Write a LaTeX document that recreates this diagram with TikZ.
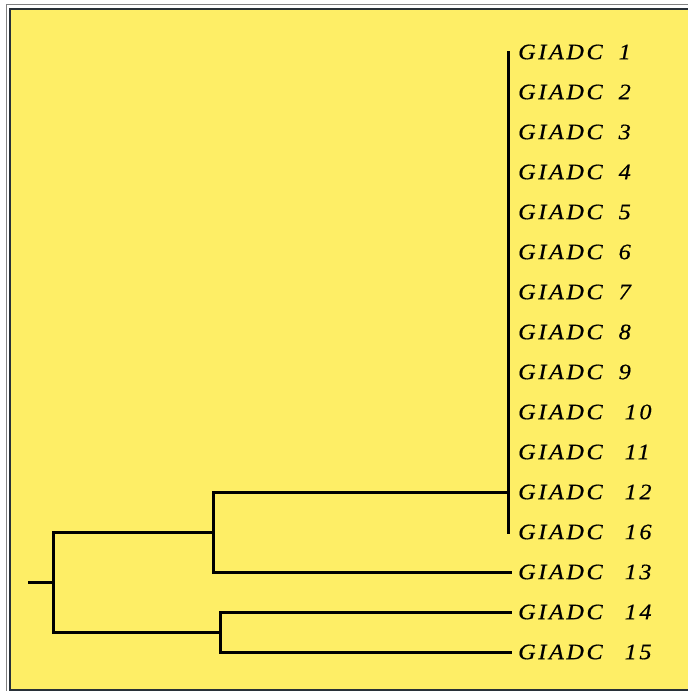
\documentclass[tikz,border=0pt]{standalone}
\usepackage{fontspec}
\newfontfamily\lblfont[LetterSpace=12,FakeStretch=1.1,FakeBold=0.6]{Liberation Serif}
\definecolor{bgyellow}{RGB}{254,238,102}
\definecolor{framedark}{RGB}{40,48,55}
\begin{document}
\begin{tikzpicture}[x=1pt,y=-1pt,
  branch/.style={line width=3pt,line cap=rect,black},
  leaf/.style={anchor=west,inner xsep=8pt,inner ysep=0pt,font=\lblfont\itshape\fontsize{22}{24}\selectfont}]
\useasboundingbox (0,0) rectangle (688,691);
\fill[white] (0,0) rectangle (688,691);
\fill[bgyellow] (11,9) rectangle (688,689);
\draw[gray,line width=1.2pt] (6.5,691) -- (6.5,4.5) -- (688,4.5);
\draw[framedark,line width=2pt] (10,691) -- (10,8.5) -- (688,8.5);
\draw[framedark,line width=2pt] (10,690) -- (688,690);
% leaves
\foreach \i in {1,...,9}{
  \node[leaf] (n\i) at (510,{52+40*(\i-1)}) {GIADC\hspace{16pt}\i};
}
\foreach \i in {10,11,12}{
  \node[leaf] (n\i) at (510,{52+40*(\i-1)}) {GIADC\hspace{22pt}\i};
}
\node[leaf] (n16) at (510,532) {GIADC\hspace{22pt}16};
\node[leaf] (n13) at (510,572) {GIADC\hspace{22pt}13};
\node[leaf] (n14) at (510,612) {GIADC\hspace{22pt}14};
\node[leaf] (n15) at (510,652) {GIADC\hspace{22pt}15};
% internal points
\coordinate (root) at (29,582);
\coordinate (r) at (53,582);
\coordinate (a) at (213,532);
\coordinate (b) at (220,632);
\coordinate (ctop) at (508,52);
\coordinate (cbot) at (508,532);
% tree
\draw[branch] (root) -- (r);
\draw[branch] (r|-a) -- (r|-b);
\draw[branch] (r|-a) -- (a);
\draw[branch] (r|-b) -- (b);
\draw[branch] (a|-n12) -- (a|-n13);
\draw[branch] (a|-n12) -- (ctop|-n12);
\draw[branch] (a|-n13) -- (n13.west);
\draw[branch] (b|-n14) -- (b|-n15);
\draw[branch] (b|-n14) -- (n14.west);
\draw[branch] (b|-n15) -- (n15.west);
\draw[branch] (ctop) -- (cbot);
\end{tikzpicture}
\end{document}
